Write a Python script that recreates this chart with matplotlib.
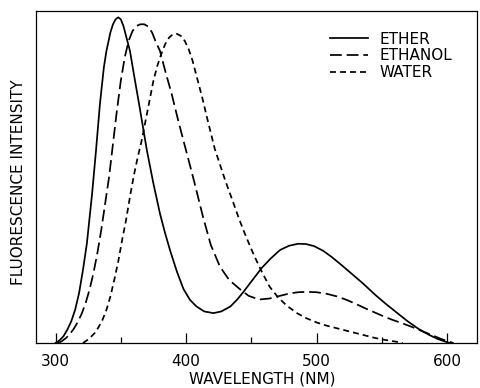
import matplotlib
matplotlib.use("Agg")
import matplotlib.pyplot as plt
from matplotlib.ticker import MultipleLocator, NullLocator

# values (wavelength in nm, relative intensity)
ether_nm = [300, 303, 306, 309, 312, 315, 318, 321, 324, 328, 331, 334, 337, 339, 342,
            344, 346, 348, 350, 352, 354, 357, 360, 364, 367, 370, 375, 380, 384, 388,
            393, 398, 403, 408, 414, 421, 427, 434, 439, 444, 451, 458, 465, 472, 479,
            486, 492, 498, 505, 512, 520, 528, 536, 545, 554, 562, 570, 578, 586, 593,
            598, 602]
ether_int = [0, 0.008, 0.02, 0.04, 0.065, 0.10, 0.15, 0.22, 0.30, 0.45, 0.58, 0.72, 0.83, 0.88, 0.935,
             0.96, 0.975, 0.981, 0.975, 0.955, 0.925, 0.88, 0.81, 0.72, 0.65, 0.58, 0.48, 0.39, 0.33, 0.276,
             0.215, 0.163, 0.13, 0.11, 0.095, 0.09, 0.095, 0.11, 0.13, 0.154, 0.19, 0.226, 0.255, 0.28, 0.293,
             0.299, 0.298, 0.292, 0.278, 0.258, 0.232, 0.205, 0.178, 0.145, 0.115, 0.09, 0.065, 0.043, 0.025, 0.012,
             0.005, 0]

ethanol_nm = [302, 305, 308, 311, 314, 317, 320, 323, 326, 329, 332, 335, 338, 341, 344,
              347, 350, 353, 356, 359, 362, 365, 368, 371, 374, 377, 380, 384, 389, 394,
              400, 406, 413, 419, 426, 433, 441, 448, 456, 464, 472, 479, 486, 493, 500,
              508, 516, 523, 530, 537, 544, 551, 558, 566, 574, 582, 589, 595, 600, 605]
ethanol_int = [0, 0.006, 0.015, 0.027, 0.043, 0.063, 0.088, 0.12, 0.16, 0.21, 0.27, 0.34, 0.42, 0.50, 0.60,
               0.70, 0.79, 0.86, 0.91, 0.94, 0.955, 0.96, 0.96, 0.953, 0.935, 0.905, 0.88, 0.82, 0.75, 0.67,
               0.58, 0.49, 0.38, 0.295, 0.23, 0.19, 0.163, 0.142, 0.131, 0.134, 0.142, 0.149, 0.153, 0.154, 0.153,
               0.148, 0.14, 0.13, 0.118, 0.105, 0.093, 0.081, 0.07, 0.059, 0.047, 0.034, 0.023, 0.013, 0.006, 0]

water_nm = [321, 324, 327, 330, 333, 336, 339, 342, 345, 348, 351, 354, 357, 360, 363,
            366, 369, 372, 375, 378, 381, 384, 387, 390, 393, 396, 399, 402, 405, 409,
            413, 416, 422, 430, 436, 441, 446, 452, 458, 464, 470, 477, 485, 492, 500,
            508, 516, 523, 530, 537, 544, 550, 556, 561, 566]
water_int = [0, 0.008, 0.018, 0.03, 0.048, 0.07, 0.10, 0.14, 0.19, 0.245, 0.31, 0.37, 0.44, 0.505, 0.56,
             0.61, 0.67, 0.73, 0.79, 0.835, 0.87, 0.90, 0.92, 0.93, 0.931, 0.925, 0.91, 0.885, 0.85, 0.79,
             0.73, 0.68, 0.585, 0.49, 0.425, 0.37, 0.32, 0.265, 0.215, 0.17, 0.14, 0.113, 0.09, 0.075, 0.062,
             0.052, 0.044, 0.037, 0.03, 0.023, 0.016, 0.011, 0.007, 0.004, 0]

xticks = [300, 400, 500, 600]

plt.rcParams['font.family'] = 'DejaVu Sans'
plt.rcParams['lines.scale_dashes'] = False

fig = plt.figure(figsize=(4.81, 3.88), dpi=100)
ax = fig.add_axes([36 / 481, 1 - 343 / 388, 441 / 481, 332 / 388])

lw = 1.25
ax.plot(ether_nm, ether_int, color='black', lw=lw, label='ETHER')
ax.plot(ethanol_nm, ethanol_int, color='black', lw=lw, dashes=(8.5, 3.5), label='ETHANOL')
ax.plot(water_nm, water_int, color='black', lw=lw, dashes=(4.3, 2.9), label='WATER')

ax.set_xlim(285, 623)
ax.set_ylim(0, 1)
ax.set_xticks(xticks)
ax.xaxis.set_minor_locator(MultipleLocator(50))
ax.yaxis.set_major_locator(NullLocator())
ax.tick_params(axis='x', which='major', direction='in', length=7, width=0.9,
               labelsize=11, pad=8)
ax.tick_params(axis='x', which='minor', direction='in', length=4.3, width=0.9)
for s in ax.spines.values():
    s.set_linewidth(0.9)

fig.text(262 / 481, 1 - 379 / 388, 'WAVELENGTH (NM)', ha='center', va='center', fontsize=11)
fig.text(19 / 481, 1 - 182 / 388, 'FLUORESCENCE INTENSITY', ha='center', va='center',
         rotation=90, fontsize=11)

leg = ax.legend(loc='upper left', bbox_to_anchor=(322 / 481, 1 - 24 / 388),
                bbox_transform=fig.transFigure, frameon=False, fontsize=11,
                handlelength=2.5, handletextpad=0.75, labelspacing=0.12, borderpad=0)

fig.savefig('out.png', dpi=100)
